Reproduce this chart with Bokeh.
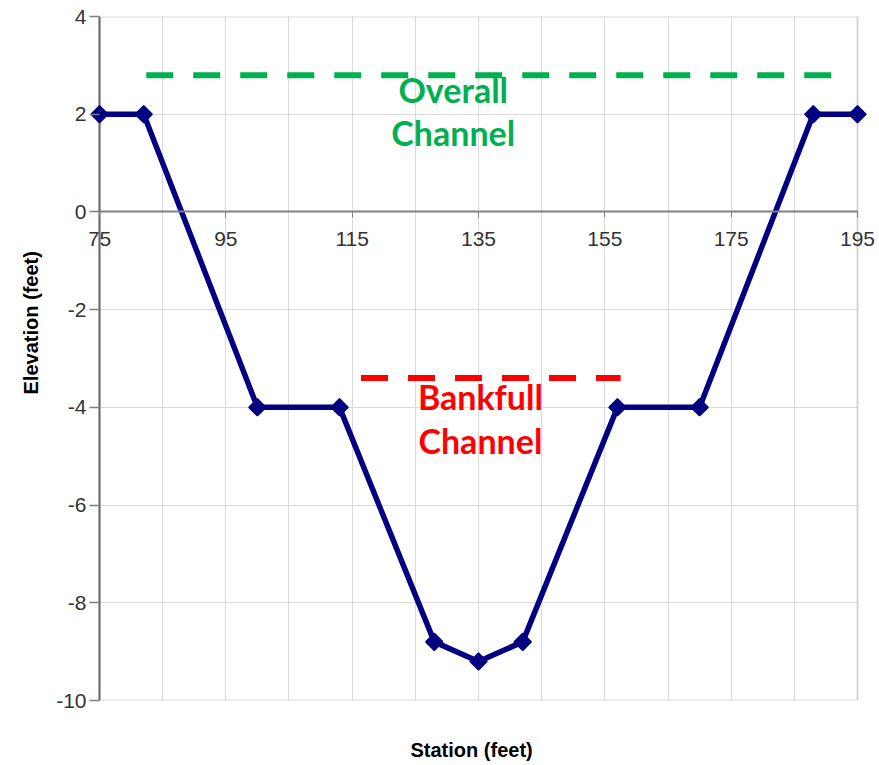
import math
from bokeh.plotting import figure
from bokeh.models import (Range1d, FixedTicker, LinearAxis, Span, BoxAnnotation,
                          Label, Title, CustomJSTickFormatter)
from bokeh.embed import file_html
from bokeh.resources import INLINE

# ---- data ----
station = [75, 82, 100, 113, 128, 135, 142, 157, 170, 188, 195]
elevation = [2, 2, -4, -4, -8.8, -9.2, -8.8, -4, -4, 2, 2]

overall_x = [82.4, 193.8]
overall_y = [2.8, 2.8]
bankfull_x = [116.4, 157.5]
bankfull_y = [-3.4, -3.4]

x_ticks = [75, 95, 115, 135, 155, 175, 195]
x_grid = [75, 85, 95, 105, 115, 125, 135, 145, 155, 165, 175, 185, 195]
y_ticks = [-10, -8, -6, -4, -2, 0, 2, 4]

X_MIN, X_MAX = 75, 195
Y_MIN, Y_MAX = -10, 4
PAD_L = 1.583   # room so end markers are not clipped
PAD_R = 3.166   # room for last tick label

p = figure(width=879, height=765,
           x_range=Range1d(X_MIN - PAD_L, X_MAX + PAD_R),
           y_range=Range1d(Y_MIN, Y_MAX),
           output_backend="svg", toolbar_location=None,
           min_border_left=89, min_border_right=2,
           min_border_top=16, min_border_bottom=65)
p.outline_line_color = None
p.background_fill_color = "white"
p.border_fill_color = "white"

plain = CustomJSTickFormatter(code="return String(tick);")
blank = CustomJSTickFormatter(code="return '';")

# grids
p.xgrid.ticker = FixedTicker(ticks=x_grid)
p.ygrid.ticker = FixedTicker(ticks=y_ticks)
p.xgrid.grid_line_color = "#d9d9d9"
p.ygrid.grid_line_color = "#d9d9d9"

# cover grid overflow outside the plot box
p.add_layout(BoxAnnotation(left=X_MAX, fill_color="white", fill_alpha=1,
                           line_color=None, level="underlay"))
# plot area border
p.add_layout(BoxAnnotation(left=X_MIN, right=X_MAX, bottom=Y_MIN, top=Y_MAX,
                           fill_alpha=0, line_color="#8c8c8c", line_width=2,
                           level="underlay"))
# y axis line at x=75
p.add_layout(Span(location=X_MIN, dimension="height", line_color="#666666",
                  line_width=2, level="underlay"))

# x axis crossing at y=0
xa = p.xaxis[0]
xa.ticker = FixedTicker(ticks=x_ticks)
xa.formatter = plain
xa.fixed_location = 0
xa.bounds = (X_MIN, X_MAX)
xa.axis_line_color = "#808080"
xa.axis_line_width = 2
xa.major_tick_line_color = "#808080"
xa.major_tick_in = 0
xa.major_tick_out = 6
xa.minor_tick_line_color = None
xa.major_label_standoff = 14
xa.major_label_text_font = "Liberation Sans"
xa.major_label_text_font_size = "21px"
xa.major_label_text_color = "#333333"

# invisible spacer below the plot box (one white tick in the right margin),
# then the x title
spacer = LinearAxis(ticker=FixedTicker(ticks=[X_MAX + PAD_R / 2]),
                    formatter=blank, axis_line_color=None,
                    major_tick_line_color="white", minor_tick_line_color=None,
                    major_tick_in=0, major_tick_out=38,
                    major_label_standoff=0,
                    major_label_text_font_size="1px")
p.add_layout(spacer, "below")
p.add_layout(Title(text="Station (feet)", align="left", offset=321,
                   vertical_align="top", standoff=0,
                   text_font="Liberation Sans", text_font_style="bold",
                   text_font_size="20px", text_color="black"), "below")

# y axis
ya = p.yaxis[0]
ya.ticker = FixedTicker(ticks=y_ticks)
ya.formatter = plain
ya.axis_line_color = None
ya.major_tick_line_color = "#808080"
ya.major_tick_line_width = 1.5
ya.major_tick_in = 10
ya.major_tick_out = 0
ya.minor_tick_line_color = None
ya.major_label_standoff = 3
ya.major_label_text_font = "Liberation Sans"
ya.major_label_text_font_size = "21px"
ya.major_label_text_color = "#333333"

p.add_layout(Title(text="Elevation (feet)", align="left", offset=306,
                   vertical_align="bottom", standoff=24,
                   text_font="Liberation Sans", text_font_style="bold",
                   text_font_size="20px", text_color="black"), "left")

# reference dashed lines
p.line(overall_x, overall_y, line_color="#00b050", line_width=6, line_dash="27 20")
p.line(bankfull_x, bankfull_y, line_color="#ff0000", line_width=6, line_dash="27 20")

# profile
p.line(station, elevation, line_color="#000080", line_width=5.5)
p.scatter(station, elevation, marker="square", angle=math.pi / 4, size=12,
          fill_color="#000080", line_color="#000080", line_width=1.5)

# labels
for txt, x, y, col in [("Overall", 131.0, 2.50, "#00b050"),
                       ("Channel", 131.0, 1.62, "#00b050"),
                       ("Bankfull", 135.3, -3.77, "#ff0000"),
                       ("Channel", 135.3, -4.67, "#ff0000")]:
    p.add_layout(Label(x=x, y=y, text=txt, text_align="center",
                       text_baseline="alphabetic", text_font="Lato",
                       text_font_style="bold", text_font_size="34px",
                       text_color=col))

open("out.html", "w").write(file_html(p, INLINE))
